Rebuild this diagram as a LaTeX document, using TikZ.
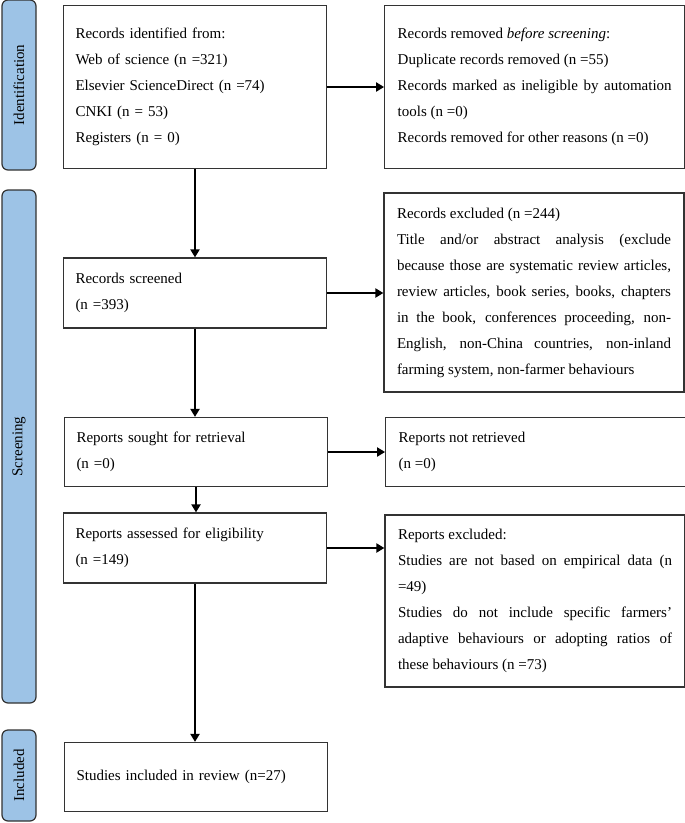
\documentclass[tikz,border=0pt]{standalone}
\usepackage{fontspec}
\setmainfont{Liberation Serif}
\usepackage{tikz}
\usetikzlibrary{arrows.meta,positioning}

\definecolor{barblue}{RGB}{157,195,230}
\definecolor{bardraw}{RGB}{50,50,50}
\tolerance=9999
\hyphenpenalty=10000

\begin{document}
\begin{tikzpicture}[
    x=1pt, y=-1pt,
    box/.style={rectangle, draw=black!80, line width=1.2pt, inner xsep=12pt, inner ysep=0pt, font=\fontsize{15}{26}\selectfont},
    leftbox/.style={box, text width=239pt, minimum height=70pt, align=left},
    rightbox/.style={box, inner xsep=13pt, text width=274pt, align=justify},
    stagebar/.style={rectangle, rounded corners=6pt, draw=bardraw, line width=1.2pt, fill=barblue, rotate=90, minimum height=34pt, inner sep=0pt, font=\fontsize{15}{18}\selectfont},
    arrow/.style={-{Triangle[length=8pt,width=9pt]}, line width=2pt}
]
\useasboundingbox (0,0) rectangle (685,823);

% Stage bars on the left
\node[stagebar, minimum width=170pt] (idbar) at (19,85) {Identification};
\node[stagebar, minimum width=513pt] (scrbar) at (19,446.5) {Screening};
\node[stagebar, minimum width=91pt] (incbar) at (19,775.5) {Included};

% Identification
\node[leftbox, minimum height=163pt] (ident) at (195,87) {
    Records identified from:\\
    Web of science (n =321)\\
    Elsevier ScienceDirect (n =74)\\
    CNKI (n = 53)\\
    Registers (n = 0)
};
\node[rightbox, minimum height=163pt, right=57pt of ident] (removed) {
    Records removed \emph{before screening}:\\
    Duplicate records removed (n =55)\\
    Records marked as ineligible by automation\linebreak
    tools (n =0)\\
    Records removed for other reasons (n =0)
};

% Screening
\node[leftbox] (screened) at (195,293) {
    Records screened\\
    (n =393)
};
\node[rightbox, minimum height=199pt] (recexcl) at (534,292.5) {
    Records excluded (n =244)\\
    Title and/or abstract analysis (exclude\linebreak
    because those are systematic review articles,\linebreak
    review articles, book series, books, chapters\linebreak
    in the book, conferences proceeding, non-\linebreak
    English, non-China countries, non-inland\linebreak
    farming system, non-farmer behaviours
};

\node[leftbox, minimum height=69pt] (sought) at (196,452) {
    Reports sought for retrieval\\
    (n =0)
};
\node[rightbox, minimum height=69pt, right=57pt of sought] (notretr) {
    Reports not retrieved\\
    (n =0)
};

\node[leftbox] (assessed) at (195,548) {
    Reports assessed for eligibility\\
    (n =149)
};
\node[rightbox, minimum height=172pt] (repexcl) at (535,601) {
    Reports excluded:\\
    Studies are not based on empirical data (n\linebreak
    =49)\\
    Studies do not include specific farmers'\linebreak
    adaptive behaviours or adopting ratios of\linebreak
    these behaviours (n =73)
};

% Included
\node[leftbox, minimum height=69pt] (included) at (196,777) {
    Studies included in review (n=27)
};

% Arrows down the main column
\draw[arrow] (ident.south) -- (ident.south |- screened.north);
\draw[arrow] (screened.south) -- (screened.south |- sought.north);
\draw[arrow] (sought.south) -- (sought.south |- assessed.north);
\draw[arrow] (assessed.south) -- (assessed.south |- included.north);

% Arrows to the exclusion boxes
\draw[arrow] (ident.east) -- (ident.east -| removed.west);
\draw[arrow] (screened.east) -- (screened.east -| recexcl.west);
\draw[arrow] (sought.east) -- (sought.east -| notretr.west);
\draw[arrow] (assessed.east) -- (assessed.east -| repexcl.west);

\end{tikzpicture}
\end{document}
